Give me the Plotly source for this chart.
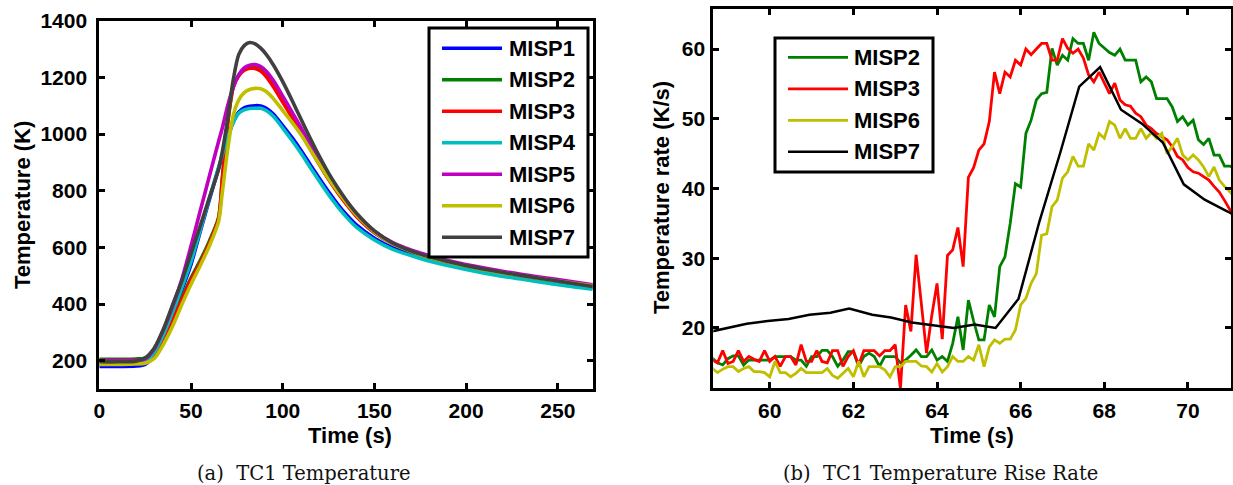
import numpy as np
import plotly.graph_objects as go

W, H = 1233, 485

# ---------------- (a) TC1 temperature histories ----------------
temp_time = [0, 10, 20, 25, 30, 35, 40, 45, 50, 55, 60, 65, 67, 70, 73, 76, 79, 82, 85, 88,
             91, 95, 100, 105, 110, 115, 120, 125, 130, 135, 140, 150, 160, 175, 190, 210, 230, 250, 269]

misp1_T = [180, 180, 181, 187, 220, 285, 365, 450, 540, 655, 768, 878, 922, 987, 1042, 1077, 1092, 1098,
           1100, 1099, 1091, 1070, 1030, 988, 942, 892, 843, 796, 752, 713, 680, 632, 598, 566, 541, 514, 492, 472, 456]
misp2_T = [205, 205, 206, 209, 226, 278, 347, 422, 492, 553, 622, 705, 835, 1038, 1165, 1208, 1230, 1238,
           1238, 1229, 1209, 1171, 1117, 1063, 1008, 950, 894, 842, 795, 752, 712, 652, 613, 576, 550, 523, 502, 483, 465]
misp3_T = [200, 200, 201, 204, 222, 272, 340, 415, 485, 545, 615, 700, 835, 1040, 1165, 1205, 1225, 1232,
           1231, 1222, 1203, 1166, 1113, 1060, 1006, 948, 892, 840, 793, 750, 711, 652, 613, 576, 550, 523, 502, 483, 465]
misp4_T = [191, 191, 192, 197, 230, 292, 372, 458, 550, 660, 773, 882, 925, 988, 1040, 1073, 1085, 1090,
           1091, 1091, 1083, 1062, 1021, 978, 932, 882, 833, 786, 743, 705, 672, 626, 593, 561, 536, 509, 488, 468, 452]
misp5_T = [200, 200, 201, 206, 242, 310, 392, 487, 605, 728, 851, 973, 1020, 1100, 1165, 1208, 1233, 1243,
           1245, 1238, 1222, 1188, 1134, 1078, 1022, 962, 905, 852, 804, 758, 718, 657, 617, 580, 554, 527, 505, 486, 468]
misp6_T = [187, 187, 188, 191, 208, 258, 322, 398, 470, 535, 605, 690, 790, 945, 1065, 1120, 1146, 1157,
           1161, 1160, 1150, 1124, 1083, 1042, 997, 945, 893, 843, 797, 755, 716, 655, 613, 574, 548, 521, 500, 481, 464]
misp7_T = [196, 196, 198, 210, 245, 312, 398, 482, 578, 675, 775, 875, 935, 1055, 1190, 1280, 1312, 1323,
           1318, 1303, 1281, 1243, 1185, 1120, 1052, 985, 921, 862, 810, 763, 722, 658, 615, 576, 550, 523, 501, 481, 462]

temp_series = [
    ("MISP1", misp1_T, "#0000FF"),
    ("MISP2", misp2_T, "#008000"),
    ("MISP3", misp3_T, "#FF0000"),
    ("MISP4", misp4_T, "#00BFBF"),
    ("MISP5", misp5_T, "#BF00BF"),
    ("MISP6", misp6_T, "#BFBF00"),
    ("MISP7", misp7_T, "#404040"),
]

# ---------------- (b) TC1 temperature rise rate ----------------
RATE_T0 = 58.625   # first logged sample (s)
RATE_DT = 0.125    # logging interval (s)

misp2_rate = [15.7, 15.0, 14.7, 15.6, 16.0, 16.0, 14.7, 15.4, 15.4, 15.4, 15.4, 15.4, 15.9, 15.9, 15.9,
              15.9, 15.4, 15.4, 14.5, 15.9, 15.9, 16.8, 16.8, 15.9, 14.5, 15.4, 16.6, 16.6, 14.5, 15.9,
              16.4, 15.9, 14.5, 15.9, 15.9, 15.9, 15.0, 15.4, 16.1, 16.85, 15.9, 15.9, 16.85, 15.4, 15.9,
              15.2, 17.8, 21.6, 16.85, 24.0, 21.0, 18.3, 18.3, 23.3, 21.6, 28.8, 30.2, 35.0, 40.7, 40.2,
              47.9, 49.8, 52.7, 53.6, 53.8, 60.1, 57.7, 59.1, 58.4, 61.5, 60.8, 60.8, 58.4, 62.4, 60.8,
              60.2, 59.5, 59.1, 60.0, 58.4, 58.4, 58.4, 55.3, 56.0, 55.3, 52.9, 52.9, 52.9, 51.7, 49.6,
              50.3, 49.1, 49.8, 47.0, 46.3, 47.2, 44.8, 44.8, 43.2, 43.2, 43.0]
misp3_rate = [15.4, 15.0, 16.75, 14.9, 15.2, 16.75, 15.2, 15.9, 15.5, 15.2, 16.75, 15.2, 15.9, 14.5, 15.9,
              15.9, 14.7, 17.6, 15.2, 15.2, 16.75, 15.2, 15.0, 16.75, 16.75, 14.5, 15.9, 16.75, 14.7, 16.75,
              16.75, 16.75, 16.0, 16.75, 16.75, 17.6, 11.3, 23.3, 19.5, 30.5, 23.5, 16.4, 21.8, 26.4, 18.4,
              30.4, 31.2, 34.4, 28.8, 41.6, 43.0, 45.5, 46.4, 49.6, 56.7, 53.6, 56.7, 56.0, 58.4, 57.7,
              60.0, 59.2, 60.0, 60.8, 60.8, 58.4, 58.4, 61.5, 60.1, 59.4, 60.0, 58.7, 56.3, 55.3, 56.7,
              55.1, 53.6, 55.1, 52.7, 52.0, 51.8, 50.8, 50.3, 49.1, 48.6, 47.9, 47.5, 47.0, 46.0, 44.6,
              44.1, 43.0, 42.4, 42.2, 41.7, 41.2, 40.3, 39.5, 38.3, 37.0, 36.0]
misp6_rate = [14.2, 13.6, 14.1, 14.45, 14.45, 13.75, 14.2, 14.45, 13.75, 13.75, 13.6, 13.0, 15.2, 13.6, 13.6,
              13.0, 13.5, 14.2, 13.6, 13.6, 13.6, 13.6, 14.2, 13.2, 12.8, 13.5, 14.2, 13.0, 15.2, 13.0,
              14.45, 14.45, 14.45, 14.0, 13.0, 14.45, 14.45, 15.2, 15.2, 15.2, 14.55, 14.45, 13.7, 14.9, 13.7,
              14.45, 15.9, 15.2, 15.2, 15.9, 15.4, 17.6, 14.45, 17.3, 18.3, 17.8, 18.4, 18.4, 19.7, 23.3,
              24.25, 26.4, 27.8, 33.3, 33.5, 37.4, 38.35, 41.5, 42.4, 44.6, 43.2, 43.2, 46.4, 45.5, 47.9,
              47.2, 49.6, 49.1, 47.2, 48.6, 47.2, 47.2, 48.6, 47.2, 48.0, 47.2, 47.9, 45.0, 46.0, 47.2,
              44.8, 44.1, 44.8, 44.1, 43.1, 41.7, 43.1, 41.2, 40.3, 39.5, 38.8]

# MISP7 was logged at a coarser rate
misp7_time = [58.45, 58.95, 59.45, 59.95, 60.45, 60.95, 61.45, 61.9, 62.45, 62.9, 63.4, 63.9, 64.4, 64.9,
              65.4, 65.95, 66.45, 66.95, 67.4, 67.9, 68.4, 68.9, 69.4, 69.9, 70.4, 70.95, 71.4]
misp7_rate = [19.3, 20.0, 20.6, 21.0, 21.3, 21.9, 22.2, 22.8, 21.9, 21.5, 20.8, 20.4, 20.0, 20.5,
              20.0, 24.2, 35.3, 45.2, 54.6, 57.4, 51.3, 49.3, 46.6, 40.6, 38.4, 36.7, 35.2]

rate_time = list(RATE_T0 + RATE_DT * np.arange(len(misp2_rate)))

rate_series = [
    ("MISP2", rate_time, misp2_rate, "#008000", 2.8),
    ("MISP3", rate_time, misp3_rate, "#FF0000", 2.8),
    ("MISP6", rate_time, misp6_rate, "#BFBF00", 2.8),
    ("MISP7", misp7_time, misp7_rate, "#000000", 2.5),
]

# ---------------- figure ----------------
SANS = "Liberation Sans, Arial, Helvetica, sans-serif"
SERIF = "DejaVu Serif, serif"


def fx(px):
    return px / W


def fy(py):
    return 1 - py / H


fig = go.Figure()

for name, vals, color in temp_series:
    fig.add_trace(go.Scatter(x=temp_time, y=vals, name=name, mode="lines",
                             line=dict(color=color, width=3.6, shape="spline", smoothing=0.8),
                             xaxis="x", yaxis="y", showlegend=False))

for name, tt, vals, color, lw in rate_series:
    fig.add_trace(go.Scatter(x=tt, y=vals, name=name, mode="lines",
                             line=dict(color=color, width=lw),
                             xaxis="x2", yaxis="y2", showlegend=False))

tick_font = dict(family=SANS, size=21, color="black", weight="bold")
axis_common = dict(showline=True, linecolor="black", linewidth=3, mirror="allticks",
                   ticks="inside", ticklen=6, tickwidth=2.5, tickcolor="black",
                   showgrid=False, zeroline=False, tickfont=tick_font, automargin=False)

fig.update_layout(
    template="none",
    width=W, height=H,
    margin=dict(l=0, r=0, t=0, b=0, pad=0),
    paper_bgcolor="white", plot_bgcolor="white",
    xaxis=dict(domain=[fx(99.3), fx(592.7)], range=[0, 269], tickvals=[0, 50, 100, 150, 200, 250],
               anchor="y", ticklabelstandoff=1, **axis_common),
    yaxis=dict(domain=[fy(389), fy(20.7)], range=[100, 1400],
               tickvals=[200, 400, 600, 800, 1000, 1200, 1400], anchor="x",
               ticklabelstandoff=5, **axis_common),
    xaxis2=dict(domain=[fx(713.3), fx(1231)], range=[58.65, 71.03], tickvals=[60, 62, 64, 66, 68, 70],
                anchor="y2", ticklabelstandoff=1, **axis_common),
    yaxis2=dict(domain=[fy(388.3), fy(9.3)], range=[11.35, 65.7], tickvals=[20, 30, 40, 50, 60],
                anchor="x2", ticklabelstandoff=1, **axis_common),
)

annotations = []
shapes = []

title_font = dict(family=SANS, size=22, color="black", weight="bold")
annotations += [
    dict(text="Time (s)", x=fx(350), y=fy(435), xref="paper", yref="paper",
         showarrow=False, xanchor="center", yanchor="middle", font=title_font),
    dict(text="Time (s)", x=fx(972), y=fy(435), xref="paper", yref="paper",
         showarrow=False, xanchor="center", yanchor="middle", font=title_font),
    dict(text="Temperature (K)", x=fx(22), y=fy(205), xref="paper", yref="paper",
         showarrow=False, xanchor="center", yanchor="middle", textangle=-90, font=title_font),
    dict(text="Temperature rate (K/s)", x=fx(661), y=fy(198), xref="paper", yref="paper",
         showarrow=False, xanchor="center", yanchor="middle", textangle=-90, font=title_font),
]

cap_font = dict(family=SERIF, size=19.5, color="#111111")
annotations += [
    dict(text="(a)  TC1 Temperature", x=fx(304), y=fy(473), xref="paper", yref="paper",
         showarrow=False, xanchor="center", yanchor="middle", font=cap_font),
    dict(text="(b)  TC1 Temperature Rise Rate", x=fx(940), y=fy(473), xref="paper", yref="paper",
         showarrow=False, xanchor="center", yanchor="middle", font=cap_font),
]

legend_font = dict(family=SANS, size=22, color="black", weight="bold")


def add_legend(box, row0, row_step, line_x, text_x, entries):
    x0, x1, y0, y1 = box
    shapes.append(dict(type="rect", xref="paper", yref="paper", x0=fx(x0), x1=fx(x1),
                       y0=fy(y1), y1=fy(y0), line=dict(color="black", width=3),
                       fillcolor="white", layer="above"))
    for k, (name, color, lw) in enumerate(entries):
        yy = row0 + k * row_step
        shapes.append(dict(type="line", xref="paper", yref="paper", x0=fx(line_x[0]), x1=fx(line_x[1]),
                           y0=fy(yy), y1=fy(yy), line=dict(color=color, width=lw), layer="above"))
        annotations.append(dict(text=name, x=fx(text_x), y=fy(yy), xref="paper", yref="paper",
                                showarrow=False, xanchor="left", yanchor="middle", font=legend_font))


add_legend((429, 588, 28, 257), 48.3, 31.5, (442, 502), 507,
           [(n, c, 3.6) for n, _, c in temp_series])
add_legend((775, 933, 38, 172), 57.3, 31.5, (788, 848), 852,
           [(n, c, lw) for n, _, _, c, lw in rate_series])

fig.update_layout(annotations=annotations, shapes=shapes)

fig.write_html("out.html")
